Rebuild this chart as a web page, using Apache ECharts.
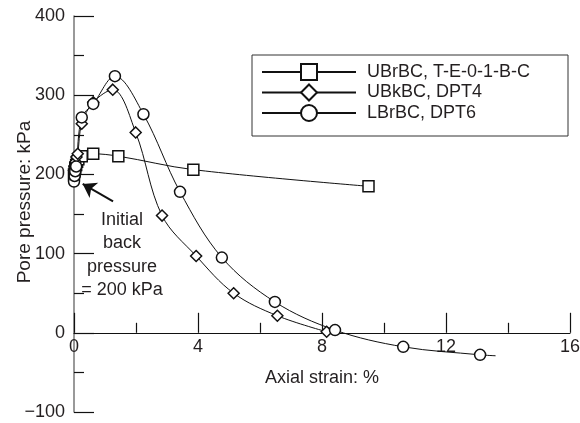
<!DOCTYPE html>
<html><head><meta charset="utf-8">
<script src="https://cdn.jsdelivr.net/npm/echarts@6/dist/echarts.min.js"></script>
<style>html,body{margin:0;padding:0;background:#fff}#c{width:580px;height:423px}</style>
</head><body><div id="c"></div>
<script>
// Axial strain (%) / pore pressure (kPa) readings
const seriesNames = ['UBrBC, T-E-0-1-B-C', 'UBkBC, DPT4', 'LBrBC, DPT6'];
const ubrbcStrain = [0.0, 0.02, 0.04, 0.07, 0.10, 0.14, 0.25, 0.62, 1.43, 3.85, 9.5];
const ubrbcPore   = [200, 204, 208, 212, 216, 219, 223, 226, 223, 206, 185];
const ubkbcStrain = [0.0, 0.02, 0.05, 0.08, 0.12, 0.25, 0.62, 1.25, 1.99, 2.84, 3.94, 5.15, 6.56, 8.15];
const ubkbcPore   = [205, 210, 216, 222, 226, 264, 291, 307, 253, 148, 97, 50, 21.5, 1.3];
const lbrbcStrain = [0.0, 0.02, 0.04, 0.07, 0.25, 0.62, 1.32, 2.24, 3.42, 4.77, 6.48, 8.42, 10.62, 13.1];
const lbrbcPore   = [191, 198, 204, 210, 272, 289, 324, 276, 178, 95, 39, 3.4, -17.7, -27.8];
// curve end beyond last marker (no marker drawn)
const lbrbcTailStrain = 13.6, lbrbcTailPore = -29;
const xTicks = [0, 4, 8, 12, 16];
const yTicks = [-100, 0, 100, 200, 300, 400];
const annotation = ['Initial', 'back', 'pressure', '= 200 kPa'];
const arrowFrom = [1.26, 166], arrowTo = [0.28, 188];

const FONT = '"Liberation Sans", Arial, sans-serif';
const TXT = '#231f20';
function pairs(xs, ys) { return xs.map((x, i) => [x, ys[i]]); }
const lbData = pairs(lbrbcStrain, lbrbcPore);
lbData.push({ value: [lbrbcTailStrain, lbrbcTailPore], symbol: 'none' });

const GRID_TOP = 16, GRID_H = 396;
const yMin = yTicks[0], yMax = yTicks[yTicks.length - 1];
// shift the x axis up so that it sits on pore pressure = 0
const xAxisOffset = -GRID_H * (0 - yMin) / (yMax - yMin);

const chart = echarts.init(document.getElementById('c'), null, { renderer: 'canvas' });
const mk = (name, data, symbol, size) => ({
  name, type: 'line', data, symbol, symbolSize: size, smooth: 0.35,
  showAllSymbol: true, animation: false,
  lineStyle: { color: '#111', width: 1 },
  itemStyle: { color: '#fff', borderColor: '#111', borderWidth: 1.5 },
  emphasis: { disabled: true }, z: 3
});
const sUB = mk(seriesNames[0], pairs(ubrbcStrain, ubrbcPore), 'rect', 11);
const sUK = mk(seriesNames[1], pairs(ubkbcStrain, ubkbcPore), 'diamond', 11);
const sLB = mk(seriesNames[2], lbData, 'circle', 11);
const sArrow = {
  type: 'line', data: [], silent: true, animation: false, z: 5,
  markLine: {
    silent: true, symbol: ['none', 'arrow'], symbolSize: 13, animation: false, z: 5,
    lineStyle: { color: '#111', width: 2, type: 'solid' }, label: { show: false },
    data: [[{ coord: arrowFrom }, { coord: arrowTo }]]
  }
};

chart.setOption({
  backgroundColor: '#fff',
  animation: false,
  grid: { left: 74, top: GRID_TOP, width: 496, height: GRID_H, containLabel: false, outerBoundsMode: 'none' },
  legend: {
    data: seriesNames, orient: 'vertical', left: 252, top: 55,
    itemWidth: 94, itemHeight: 20, itemGap: 2.5,
    padding: [8, 38, 14, 9], borderColor: '#333', borderWidth: 1,
    textStyle: { fontFamily: FONT, fontSize: 18, color: TXT, padding: [0, 0, 0, 6] },
    selectedMode: false
  },
  xAxis: {
    type: 'value', min: xTicks[0], max: xTicks[xTicks.length - 1], interval: 4,
    position: 'bottom', offset: xAxisOffset,
    name: 'Axial strain: %', nameLocation: 'middle', nameGap: 36,
    nameTextStyle: { fontFamily: FONT, fontSize: 18, color: TXT },
    axisLine: { onZero: false, lineStyle: { color: '#111', width: 1.2 } },
    axisTick: { inside: true, length: 20, lineStyle: { color: '#111', width: 1.2 } },
    minorTick: { show: true, splitNumber: 2, length: 10, lineStyle: { color: '#111', width: 1.2 } },
    axisLabel: { fontFamily: FONT, fontSize: 18, color: TXT, margin: 5 },
    splitLine: { show: false }
  },
  yAxis: {
    type: 'value', min: yMin, max: yMax, interval: 100,
    axisLine: { lineStyle: { color: '#777', width: 1.5 } },
    axisTick: { inside: true, length: 20, lineStyle: { color: '#111', width: 1.2 } },
    minorTick: { show: true, splitNumber: 2, length: 10, lineStyle: { color: '#111', width: 1.2 } },
    axisLabel: { fontFamily: FONT, fontSize: 18, color: TXT, margin: 9,
      formatter: v => (v < 0 ? '\u2212' + Math.abs(v) : String(v)) },
    splitLine: { show: false }
  },
  graphic: [
    { type: 'text', position: [25, 202], rotation: Math.PI / 2,
      style: { text: 'Pore pressure: kPa', font: '19px ' + FONT, fill: TXT, textAlign: 'center', textVerticalAlign: 'middle' } },
    { type: 'text', position: [122, 208],
      style: { text: annotation.join('\n'), font: '18px ' + FONT, fill: TXT, textAlign: 'center', textVerticalAlign: 'top', lineHeight: 23.5 } }
  ],
  series: [sUB, sUK, sLB, sArrow]
});
</script></body></html>
